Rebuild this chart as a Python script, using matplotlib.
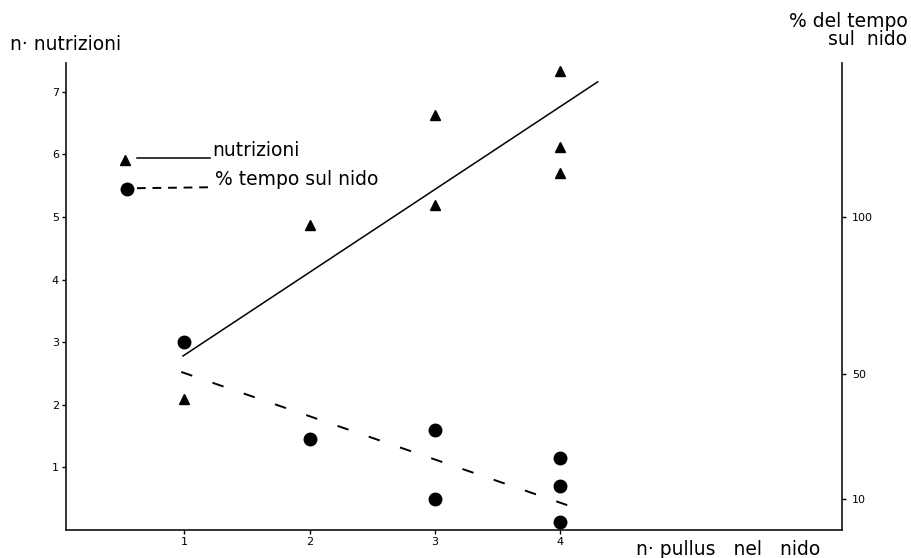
import numpy as np
import matplotlib as mpl
mpl.use('Agg')
import matplotlib.pyplot as plt

# --------------------------------------------
# data
# nutrizioni (left axis, triangles)
pullus_nutr = [1, 2, 3, 3, 4, 4, 4]
nutrizioni = [2.1, 4.88, 6.63, 5.2, 7.34, 6.12, 5.7]
# % tempo sul nido (right axis, circles)
pullus_tempo = [1, 2, 3, 3, 4, 4, 4]
tempo = [60, 29, 32, 10, 23, 14, 2.6]
# fitted lines (endpoints)
fit_nutr_x = [0.99, 4.30]
fit_nutr_y = [2.78, 7.16]
fit_tempo_x = [0.976, 4.19]
fit_tempo_y = [50.5, 6.1]

xticks = [1, 2, 3, 4]
yticks_left = [1, 2, 3, 4, 5, 6, 7]
yticks_right = [10, 50, 100]
# --------------------------------------------

plt.rcParams['font.family'] = ['DejaVu Sans']
fig = plt.figure(figsize=(9.11, 5.58), dpi=100)
ax = fig.add_axes([0.0724, 0.0502, 0.8519, 0.8368])
ax2 = ax.twinx()

ax.set_xlim(0.056, 6.25)
ax.set_ylim(0, 7.46)
ax2.set_ylim(0, 149.2)

for a in (ax, ax2):
    a.spines['top'].set_visible(False)
    for s in a.spines.values():
        s.set_linewidth(1.2)
        s.set_color('#111111')
ax.spines['right'].set_visible(False)
ax2.spines['left'].set_visible(False)
ax2.spines['bottom'].set_visible(False)

ax.set_xticks(xticks)
ax.set_yticks(yticks_left)
ax2.set_yticks(yticks_right)
ax.tick_params(axis='both', length=3, width=1, pad=2, labelsize=8, direction='out')
ax2.tick_params(axis='y', length=3, width=1, pad=4, labelsize=8, direction='out')

# data
ax.plot(pullus_nutr, nutrizioni, linestyle='none', marker='^', markersize=6.5, color='black')
ax.plot(fit_nutr_x, fit_nutr_y, '-', color='black', linewidth=1.1)
ax2.plot(pullus_tempo, tempo, linestyle='none', marker='o', markersize=9, color='black')
ax2.plot(fit_tempo_x, fit_tempo_y, color='black', linewidth=1.4, dashes=(6, 11))

# hand-drawn legend
ax.plot([0.076], [0.792], marker='^', markersize=6.5, color='black', transform=ax.transAxes, clip_on=False)
ax.plot([0.0915, 0.186], [0.797, 0.797], '-', color='black', linewidth=1.1, transform=ax.transAxes)
ax.text(0.188, 0.812, 'nutrizioni', transform=ax.transAxes, fontsize=13.5, va='center', ha='left')
ax.plot([0.0786], [0.730], marker='o', markersize=9, color='black', transform=ax.transAxes, clip_on=False)
ax.plot([0.0915, 0.186], [0.732, 0.734], color='black', linewidth=1.4, dashes=(4.5, 3.5), transform=ax.transAxes)
ax.text(0.192, 0.750, '% tempo sul nido', transform=ax.transAxes, fontsize=13.5, va='center', ha='left')

# axis titles
fig.text(0.011, 0.921, 'n· nutrizioni', fontsize=13.5, ha='left', va='center')
fig.text(0.996, 0.945, '% del tempo\n     sul  nido', fontsize=13.5, ha='right', va='center', linespacing=0.95)
fig.text(0.90, 0.016, 'n· pullus   nel   nido', fontsize=13.5, ha='right', va='center')

fig.savefig('out.png', dpi=100)
